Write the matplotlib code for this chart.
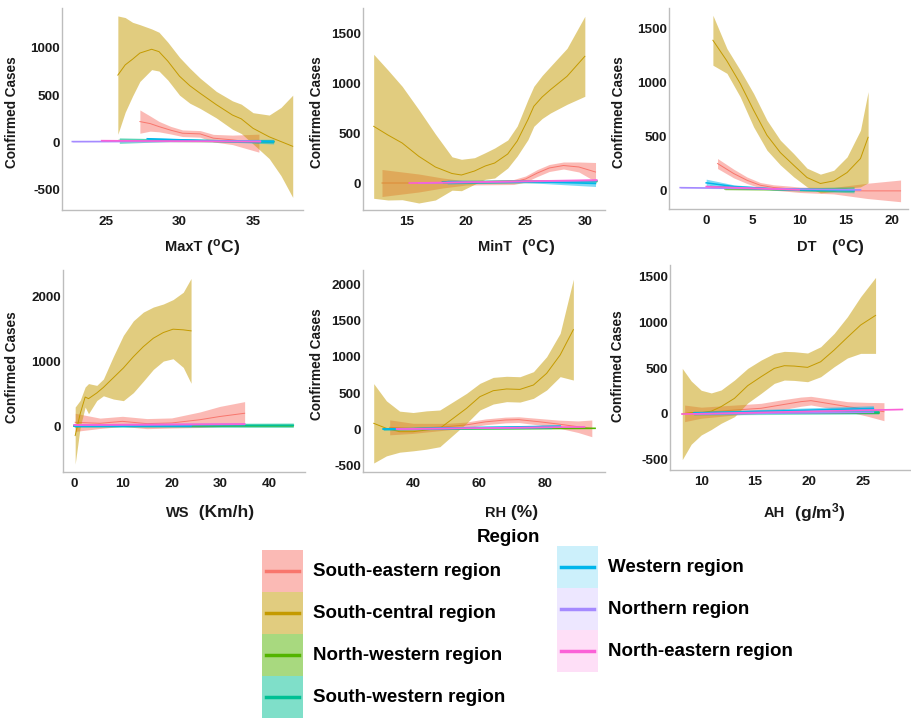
import matplotlib
matplotlib.use('Agg')
import matplotlib.pyplot as plt
from matplotlib.patches import Rectangle
from matplotlib.lines import Line2D

plt.rcParams['font.family'] = ['Liberation Sans', 'DejaVu Sans']
plt.rcParams['font.weight'] = 'bold'
plt.rcParams['mathtext.fontset'] = 'custom'
plt.rcParams['mathtext.rm'] = 'Liberation Sans:bold'
plt.rcParams['mathtext.bf'] = 'Liberation Sans:bold'
plt.rcParams['mathtext.it'] = 'Liberation Sans:bold'
plt.rcParams['mathtext.default'] = 'rm'

# ---------------- data ----------------
regions = ['South-eastern region', 'South-central region', 'North-western region',
           'South-western region', 'Western region', 'Northern region', 'North-eastern region']
colors = ['#F8766D', '#C49A00', '#53B400', '#00C094', '#00B6EB', '#A58AFF', '#FB61D7']

# MaxT
maxt_se_x = [27.3, 28.0, 28.6, 29.4, 30.2, 31.4, 32.3, 33.6, 35.4]
maxt_se_y = [221, 200, 168, 130, 98, 91, 46, 28, -7]
maxt_se_hw = [123, 80, 55, 40, 35, 35, 40, 50, 95]
maxt_sc_x = [25.8, 26.3, 26.8, 27.3, 28.1, 28.6, 29.2, 30.0, 30.7, 31.4, 32.5, 33.6, 34.2, 35.0, 36.1, 36.9, 37.7]
maxt_sc_y = [712, 820, 880, 945, 985, 960, 860, 700, 600, 520, 400, 290, 250, 150, 60, 10, -40]
maxt_sc_hw = [625, 500, 390, 300, 215, 205, 200, 200, 185, 160, 140, 150, 155, 165, 230, 360, 540]
maxt_nw_x, maxt_nw_y, maxt_nw_hw = [25.9, 36.4], [20, 10], [8, 8]
maxt_sw_x, maxt_sw_y, maxt_sw_hw = [25.9, 30.0, 36.4], [20, 25, 10], [30, 10, 15]
maxt_w_x, maxt_w_y, maxt_w_hw = [27.8, 32.0, 36.4], [40, 20, 10], [12, 8, 25]
maxt_n_x, maxt_n_y, maxt_n_hw = [22.7, 35.5], [10, 15], [5, 5]
maxt_ne_x, maxt_ne_y, maxt_ne_hw = [24.7, 35.5], [20, 10], [5, 5]

# MinT
mint_se_x = [12.9, 16.0, 18.0, 20.0, 24.0, 25.0, 26.0, 27.0, 28.2, 29.5, 30.9]
mint_se_y = [0, 0, 0, 0, 10, 40, 100, 150, 175, 160, 110]
mint_se_hw = [135, 90, 50, 20, 25, 30, 35, 35, 35, 50, 95]
mint_sc_x = [12.2, 13.4, 14.6, 16.0, 17.4, 18.8, 19.6, 20.7, 21.6, 22.4, 23.5, 24.3, 25.2, 25.7, 26.4, 27.1, 28.5, 30.0]
mint_sc_y = [567, 480, 400, 267, 160, 95, 80, 120, 170, 200, 290, 420, 633, 767, 860, 933, 1067, 1267]
mint_sc_hw = [720, 650, 567, 467, 330, 167, 157, 133, 133, 150, 140, 150, 200, 200, 215, 233, 280, 400]
mint_nw_x, mint_nw_y, mint_nw_hw = [18.0, 31.0], [10, 20], [15, 10]
mint_sw_x, mint_sw_y, mint_sw_hw = [18.0, 31.0], [10, 20], [15, 12]
mint_w_x, mint_w_y, mint_w_hw = [18.4, 25.0, 30.9], [10, 15, -5], [20, 10, 30]
mint_n_x, mint_n_y, mint_n_hw = [16.0, 31.0], [0, 25], [5, 5]
mint_ne_x, mint_ne_y, mint_ne_hw = [15.2, 31.0], [0, 30], [5, 5]

# DT
dt_se_x = [1.22, 2.95, 4.38, 5.81, 7.25, 8.69, 10.1, 13.7, 17.3, 20.9]
dt_se_y = [252, 160, 98, 52, 31, 21, 10, 2, 0, 0]
dt_se_hw = [46, 40, 30, 25, 25, 25, 25, 30, 70, 100]
dt_sc_x = [0.72, 2.23, 3.66, 5.1, 6.53, 7.97, 9.41, 10.84, 12.28, 13.72, 15.15, 16.59, 17.41]
dt_sc_y = [1388, 1197, 989, 743, 513, 353, 236, 123, 68, 92, 169, 298, 494]
dt_sc_hw = [230, 114, 123, 154, 138, 114, 107, 86, 86, 98, 144, 261, 420]
dt_nw_x, dt_nw_y, dt_nw_hw = [2.0, 15.9], [20, 10], [10, 15]
dt_sw_x, dt_sw_y, dt_sw_hw = [0.5, 8.0, 15.9], [40, 15, 10], [10, 8, 28]
dt_w_x, dt_w_y, dt_w_hw = [0.0, 3.0, 8.0, 15.9], [74, 40, 15, 5], [34, 15, 8, 10]
dt_n_x, dt_n_y, dt_n_hw = [-2.8, 16.6], [30, 10], [5, 5]
dt_ne_x, dt_ne_y, dt_ne_hw = [0.0, 10.0], [40, 10], [5, 5]

# WS
ws_se_x = [0.2, 5.3, 9.9, 14.9, 20.0, 25.8, 29.9, 35.0]
ws_se_y = [60, 45, 75, 40, 50, 100, 150, 200]
ws_se_hw = [140, 80, 78, 78, 78, 120, 156, 180]
ws_sc_x = [0.2, 1.23, 2.25, 2.94, 4.64, 6.0, 8.05, 10.1, 12.15, 14.2, 16.25, 18.3, 20.3, 22.4, 24.0]
ws_sc_y = [-145, 192, 451, 426, 514, 600, 750, 900, 1074, 1230, 1360, 1448, 1500, 1490, 1474]
ws_sc_hw = [441, 208, 155, 233, 117, 130, 330, 505, 555, 534, 482, 441, 457, 581, 810]
ws_nw_x, ws_nw_y, ws_nw_hw = [0.0, 45.0], [10, 10], [10, 10]
ws_sw_x, ws_sw_y, ws_sw_hw = [0.0, 45.0], [10, 15], [25, 35]
ws_w_x, ws_w_y, ws_w_hw = [0.0, 24.0], [0, 5], [10, 10]
ws_n_x, ws_n_y, ws_n_hw = [0.0, 35.0], [20, 30], [10, 10]
ws_ne_x, ws_ne_y, ws_ne_hw = [0.0, 35.0], [20, 35], [8, 8]

# RH
rh_se_x = [32.9, 40, 50, 56, 62, 68, 72, 78, 84, 90, 94.2]
rh_se_y = [23, 9, 32, 56, 100, 125, 130, 102, 69, 32, 9]
rh_se_hw = [104, 70, 46, 40, 40, 40, 40, 45, 55, 80, 116]
rh_sc_x = [28.05, 31.9, 35.9, 40.0, 44.05, 48.1, 52.15, 56.2, 60.25, 64.3, 68.35, 72.4, 76.5, 80.5, 84.6, 88.6]
rh_sc_y = [79, 9, -37, -37, -14, 9, 148, 287, 449, 532, 556, 550, 611, 773, 1028, 1380]
rh_sc_hw = [551, 382, 285, 266, 266, 255, 231, 208, 185, 185, 176, 176, 185, 231, 301, 700]
rh_nw_x, rh_nw_y, rh_nw_hw = [35.0, 95.2], [0, 10], [5, 5]
rh_sw_x, rh_sw_y, rh_sw_hw = [31.0, 82.0], [0, 20], [15, 15]
rh_w_x, rh_w_y, rh_w_hw = [30.9, 84.6], [0, 40], [15, 15]
rh_n_x, rh_n_y, rh_n_hw = [35.0, 85.0], [0, 25], [5, 5]
rh_ne_x, rh_ne_y, rh_ne_hw = [35.0, 92.0], [0, 30], [5, 5]

# AH
ah_se_x = [8.46, 10.0, 13.09, 15.56, 17.4, 19.26, 20.19, 21.73, 23.58, 25.43, 26.98]
ah_se_y = [7, 14, 43, 62, 98, 134, 145, 116, 80, 51, 25]
ah_se_hw = [90, 60, 54, 54, 54, 50, 47, 50, 54, 75, 98]
ah_sc_x = [8.24, 9.07, 10.0, 10.93, 11.85, 13.09, 14.32, 15.56, 16.79, 17.72, 18.64, 19.88, 21.1, 22.35, 23.58, 24.81, 26.2]
ah_sc_y = [0, 15, 15, 30, 80, 170, 308, 405, 496, 525, 521, 507, 568, 695, 833, 967, 1072]
ah_sc_hw = [496, 344, 243, 199, 181, 199, 188, 181, 163, 156, 156, 156, 163, 181, 224, 308, 413]
ah_nw_x, ah_nw_y, ah_nw_hw = [9.3, 26.5], [10, 10], [10, 10]
ah_sw_x, ah_sw_y, ah_sw_hw = [9.3, 26.5], [10, 20], [20, 20]
ah_w_x, ah_w_y, ah_w_hw = [9.3, 26.0], [10, 60], [15, 30]
ah_n_x, ah_n_y, ah_n_hw = [9.3, 26.0], [0, 20], [5, 5]
ah_ne_x, ah_ne_y, ah_ne_hw = [8.2, 28.7], [0, 50], [5, 5]

# x-axis ticks
maxt_ticks = [25, 30, 35]
mint_ticks = [15, 20, 25, 30]
dt_ticks = [0, 5, 10, 15, 20]
ws_ticks = [0, 10, 20, 30, 40]
rh_ticks = [40, 60, 80]
ah_ticks = [10, 15, 20, 25]

# ---------------- layout ----------------
W, H = 911, 720
fig = plt.figure(figsize=(W / 100, H / 100), dpi=100)

def px_rect(l, t, r, b):
    return [l / W, 1 - b / H, (r - l) / W, (b - t) / H]

panels = [
    dict(rect=(62, 8, 303, 210), xlim=(22.0, 38.4), ylim=(-713, 1421), xt=maxt_ticks,
         yt=[-500, 0, 500, 1000],
         series=[(maxt_se_x, maxt_se_y, maxt_se_hw), (maxt_sc_x, maxt_sc_y, maxt_sc_hw),
                 (maxt_nw_x, maxt_nw_y, maxt_nw_hw), (maxt_sw_x, maxt_sw_y, maxt_sw_hw),
                 (maxt_w_x, maxt_w_y, maxt_w_hw), (maxt_n_x, maxt_n_y, maxt_n_hw),
                 (maxt_ne_x, maxt_ne_y, maxt_ne_hw)],
         name='MaxT', unit=' ($^{o}$C)', split=202, ly=247, ylab=(12, 112)),
    dict(rect=(363, 8, 605, 210), xlim=(11.3, 31.7), ylim=(-270, 1750), xt=mint_ticks,
         yt=[0, 500, 1000, 1500],
         series=[(mint_se_x, mint_se_y, mint_se_hw), (mint_sc_x, mint_sc_y, mint_sc_hw),
                 (mint_nw_x, mint_nw_y, mint_nw_hw), (mint_sw_x, mint_sw_y, mint_sw_hw),
                 (mint_w_x, mint_w_y, mint_w_hw), (mint_n_x, mint_n_y, mint_n_hw),
                 (mint_ne_x, mint_ne_y, mint_ne_hw)],
         name='MinT', unit='  ($^{o}$C)', split=512, ly=247, ylab=(317, 112)),
    dict(rect=(669, 8, 908, 209), xlim=(-4.0, 21.7), ylim=(-167, 1685), xt=dt_ticks,
         yt=[0, 500, 1000, 1500],
         series=[(dt_se_x, dt_se_y, dt_se_hw), (dt_sc_x, dt_sc_y, dt_sc_hw),
                 (dt_nw_x, dt_nw_y, dt_nw_hw), (dt_sw_x, dt_sw_y, dt_sw_hw),
                 (dt_w_x, dt_w_y, dt_w_hw), (dt_n_x, dt_n_y, dt_n_hw),
                 (dt_ne_x, dt_ne_y, dt_ne_hw)],
         name='DT', unit='   ($^{o}$C)', split=817, ly=247, ylab=(619, 112)),
    dict(rect=(63, 270, 305, 472), xlim=(-2.3, 47.4), ylim=(-708, 2415), xt=ws_ticks,
         yt=[0, 1000, 2000],
         series=[(ws_se_x, ws_se_y, ws_se_hw), (ws_sc_x, ws_sc_y, ws_sc_hw),
                 (ws_nw_x, ws_nw_y, ws_nw_hw), (ws_sw_x, ws_sw_y, ws_sw_hw),
                 (ws_w_x, ws_w_y, ws_w_hw), (ws_n_x, ws_n_y, ws_n_hw),
                 (ws_ne_x, ws_ne_y, ws_ne_hw)],
         name='WS', unit='  (Km/h)', split=189, ly=513, ylab=(12, 367)),
    dict(rect=(363, 270, 605, 472), xlim=(24.8, 98.2), ylim=(-597, 2208), xt=rh_ticks,
         yt=[-500, 0, 500, 1000, 1500, 2000],
         series=[(rh_se_x, rh_se_y, rh_se_hw), (rh_sc_x, rh_sc_y, rh_sc_hw),
                 (rh_nw_x, rh_nw_y, rh_nw_hw), (rh_sw_x, rh_sw_y, rh_sw_hw),
                 (rh_w_x, rh_w_y, rh_w_hw), (rh_n_x, rh_n_y, rh_n_hw),
                 (rh_ne_x, rh_ne_y, rh_ne_hw)],
         name='RH', unit=' (%)', split=506, ly=513, ylab=(317, 364)),
    dict(rect=(670, 265, 910, 470), xlim=(7.1, 29.4), ylim=(-609, 1620), xt=ah_ticks,
         yt=[-500, 0, 500, 1000, 1500],
         series=[(ah_se_x, ah_se_y, ah_se_hw), (ah_sc_x, ah_sc_y, ah_sc_hw),
                 (ah_nw_x, ah_nw_y, ah_nw_hw), (ah_sw_x, ah_sw_y, ah_sw_hw),
                 (ah_w_x, ah_w_y, ah_w_hw), (ah_n_x, ah_n_y, ah_n_hw),
                 (ah_ne_x, ah_ne_y, ah_ne_hw)],
         name='AH', unit='  (g/m$^{3}$)', split=785, ly=513, ylab=(618, 366)),
]

ALPHA = 0.5
for p in panels:
    ax = fig.add_axes(px_rect(*p['rect']))
    for i, (xs, ys, hw) in enumerate(p['series']):
        lo = [y - h for y, h in zip(ys, hw)]
        hi = [y + h for y, h in zip(ys, hw)]
        ax.fill_between(xs, lo, hi, color=colors[i], alpha=ALPHA, linewidth=0, zorder=2 + i)
        lw = 0.7 if i < 2 else 1.1
        ax.plot(xs, ys, color=colors[i], lw=lw, zorder=2.5 + i)
    ax.set_xlim(*p['xlim'])
    ax.set_ylim(*p['ylim'])
    ax.set_xticks(p['xt'])
    ax.set_yticks(p['yt'])
    ax.set_xticklabels([str(v) for v in p['xt']])
    ax.set_yticklabels([str(v) for v in p['yt']])
    for s in ['top', 'right']:
        ax.spines[s].set_visible(False)
    for s in ['left', 'bottom']:
        ax.spines[s].set_color('#BDBDBD')
        ax.spines[s].set_linewidth(1.0)
    ax.tick_params(axis='both', length=0, labelsize=9.7, colors='#1a1a1a')
    ax.tick_params(axis='x', pad=4)
    ax.tick_params(axis='y', pad=1.5)
    for lab in ax.get_xticklabels() + ax.get_yticklabels():
        lab.set_fontweight('bold')
    # axis titles
    fig.text(p['split'] / W, 1 - p['ly'] / H, p['name'], ha='right', va='center',
             fontsize=10.5, fontweight='bold', color='#1a1a1a')
    fig.text(p['split'] / W, 1 - p['ly'] / H, p['unit'], ha='left', va='center',
             fontsize=12.5, fontweight='bold', color='#1a1a1a')
    fig.text(p['ylab'][0] / W, 1 - p['ylab'][1] / H, 'Confirmed Cases', rotation=90,
             ha='center', va='center', fontsize=9.8, fontweight='bold', color='#1a1a1a')

# ---------------- legend (drawn as key boxes) ----------------
fig.text(508 / W, 1 - 538 / H, 'Region', ha='center', va='center', fontsize=13.5,
         fontweight='bold')
key_w, key_h = 41, 42
for i, (name, c) in enumerate(zip(regions, colors)):
    col, row = (0, i) if i < 4 else (1, i - 4)
    left = 262 if col == 0 else 557
    top = (550 if col == 0 else 546) + key_h * row
    a = 0.5 if col == 0 else 0.2
    fig.add_artist(Rectangle((left / W, 1 - (top + key_h) / H), key_w / W, key_h / H,
                             transform=fig.transFigure, facecolor=c, alpha=a,
                             edgecolor='none'))
    ymid = 1 - (top + key_h / 2) / H
    fig.add_artist(Line2D([(left + 4) / W, (left + key_w - 4) / W], [ymid, ymid],
                          transform=fig.transFigure, color=c, lw=2.5))
    fig.text((left + key_w + 10) / W, ymid, name, ha='left', va='center',
             fontsize=13.5, fontweight='bold', color='black')

fig.savefig('out.png', dpi=100, facecolor='white')
